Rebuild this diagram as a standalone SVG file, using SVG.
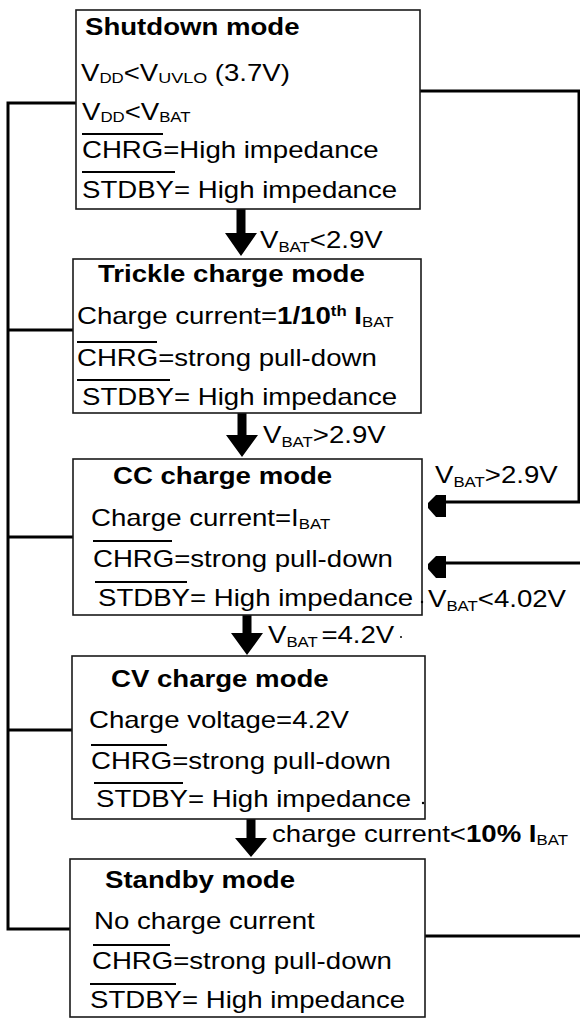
<svg xmlns="http://www.w3.org/2000/svg" width="580" height="1018" viewBox="0 0 580 1018">
<style>
.box{fill:#fff;stroke:#1a1a1a;stroke-width:1.6}
.t{font-family:"Liberation Sans",Arial,sans-serif;font-size:23px;fill:#000}
.b{font-weight:bold}
.s{font-size:14px}
.ov{stroke:#000;stroke-width:2.2}
.wire{fill:none;stroke:#000;stroke-width:3}
.arr{fill:#000}
</style>
<rect width="580" height="1018" fill="#fff"/>
<g id="connectors">
<polyline class="wire" points="76,103 8,103 8,929 70,929"/>
<line class="wire" x1="8" y1="330" x2="73" y2="330"/>
<line class="wire" x1="8" y1="537" x2="73" y2="537"/>
<line class="wire" x1="8" y1="730" x2="72" y2="730"/>
<polyline class="wire" points="420,91 579,91 579,502 445,502"/>
<line class="wire" x1="445" y1="563" x2="580" y2="563"/>
<line class="wire" x1="425" y1="936" x2="580" y2="936"/>
<path class="arr" d="M446,495 L436,495 L428,503 L428,508 L436,517 L446,517 Z"/>
<path class="arr" d="M446,556 L436,556 L428,564 L428,569 L436,578 L446,578 Z"/>
<path class="arr" d="M236.5,209 H245.5 V233 H257 L241,256 L225,233 H236.5 Z"/>
<path class="arr" d="M237.5,413 H246.5 V435 H258 L242,457 L226,435 H237.5 Z"/>
<path class="arr" d="M242.5,615 H251.5 V633 H263 L247,655 L231,633 H242.5 Z"/>
<path class="arr" d="M246.5,819 H255.5 V838 H267 L251,857 L235,838 H246.5 Z"/>
<text class="t" transform="translate(260 248) scale(1.2 1)">V<tspan class="s" dy="4">BAT</tspan><tspan dy="-4">&lt;2.9V</tspan></text>
<text class="t" transform="translate(263 443) scale(1.2 1)">V<tspan class="s" dy="4">BAT</tspan><tspan dy="-4">&gt;2.9V</tspan></text>
<text class="t" transform="translate(268 643) scale(1.2 1)">V<tspan class="s" dy="4">BAT</tspan><tspan dy="-4" dx="3">=4.2V</tspan></text>
<circle cx="401" cy="637" r="1" fill="#000"/>
<text class="t" transform="translate(272 842) scale(1.2 1)">charge current&lt;<tspan class="b">10% I</tspan><tspan class="s" dy="3">BAT</tspan></text>
<text class="t" transform="translate(435 483) scale(1.2 1)">V<tspan class="s" dy="4">BAT</tspan><tspan dy="-4">&gt;2.9V</tspan></text>
<text class="t" transform="translate(428 607) scale(1.2 1)">V<tspan class="s" dy="4">BAT</tspan><tspan dy="-4">&lt;4.02V</tspan></text>
</g>
<g id="shutdown">
<rect class="box" x="76" y="10" width="344" height="199"/>
<text class="t b" transform="translate(85 35) scale(1.2 1)">Shutdown mode</text>
<text class="t" transform="translate(81 81) scale(1.2 1)">V<tspan class="s" dy="2">DD</tspan><tspan dy="-2">&lt;V</tspan><tspan font-size="15" dy="2">UVLO</tspan><tspan dy="-2"> (3.7V)</tspan></text>
<text class="t" transform="translate(82 120) scale(1.2 1)">V<tspan class="s" dy="2">DD</tspan><tspan dy="-2">&lt;V</tspan><tspan class="s" dy="2">BAT</tspan></text>
<line class="ov" x1="82" y1="134" x2="163" y2="134"/>
<text class="t" transform="translate(82 158) scale(1.2 1)">CHRG=High impedance</text>
<line class="ov" x1="82" y1="172" x2="175" y2="172"/>
<text class="t" transform="translate(82 198) scale(1.2 1)">STDBY= High impedance</text>
</g>
<g id="trickle">
<rect class="box" x="73" y="259" width="348" height="154"/>
<text class="t b" transform="translate(98 282) scale(1.2 1)">Trickle charge mode</text>
<text class="t" transform="translate(77 324) scale(1.2 1)">Charge current=<tspan class="b">1/10</tspan><tspan class="s b" dy="-8">th</tspan><tspan class="b" dy="8"> I</tspan><tspan class="s" dy="3">BAT</tspan></text>
<line class="ov" x1="77" y1="342" x2="157" y2="342"/>
<text class="t" transform="translate(77 366) scale(1.2 1)">CHRG=strong pull-down</text>
<line class="ov" x1="77" y1="380" x2="170" y2="380"/>
<text class="t" transform="translate(82 405) scale(1.2 1)">STDBY= High impedance</text>
</g>
<g id="cc">
<rect class="box" x="73" y="459" width="349" height="156"/>
<text class="t b" transform="translate(113 484) scale(1.2 1)">CC charge mode</text>
<text class="t" transform="translate(91 526) scale(1.2 1)">Charge current=I<tspan class="s" dy="3">BAT</tspan></text>
<line class="ov" x1="93" y1="541" x2="172" y2="541"/>
<text class="t" transform="translate(93 567) scale(1.2 1)">CHRG=strong pull-down</text>
<line class="ov" x1="95" y1="582" x2="187" y2="582"/>
<text class="t" transform="translate(98 606) scale(1.2 1)">STDBY= High impedance</text>
<circle cx="422" cy="602" r="1.2" fill="#000"/>
</g>
<g id="cv">
<rect class="box" x="72" y="656" width="353" height="163"/>
<text class="t b" transform="translate(111 687) scale(1.2 1)">CV charge mode</text>
<text class="t" transform="translate(89 728) scale(1.2 1)">Charge voltage=4.2V</text>
<line class="ov" x1="91" y1="745" x2="167" y2="745"/>
<text class="t" transform="translate(91 769) scale(1.2 1)">CHRG=strong pull-down</text>
<line class="ov" x1="94" y1="783" x2="183" y2="783"/>
<text class="t" transform="translate(96 807) scale(1.2 1)">STDBY= High impedance</text>
<circle cx="423" cy="803" r="1.2" fill="#000"/>
</g>
<g id="standby">
<rect class="box" x="70" y="859" width="355" height="158"/>
<text class="t b" transform="translate(105 888) scale(1.2 1)">Standby mode</text>
<text class="t" transform="translate(94 929) scale(1.2 1)">No charge current</text>
<line class="ov" x1="93" y1="945" x2="170" y2="945"/>
<text class="t" transform="translate(92 969) scale(1.2 1)">CHRG=strong pull-down</text>
<line class="ov" x1="90" y1="984" x2="176" y2="984"/>
<text class="t" transform="translate(90 1008) scale(1.2 1)">STDBY= High impedance</text>
</g>
</svg>
